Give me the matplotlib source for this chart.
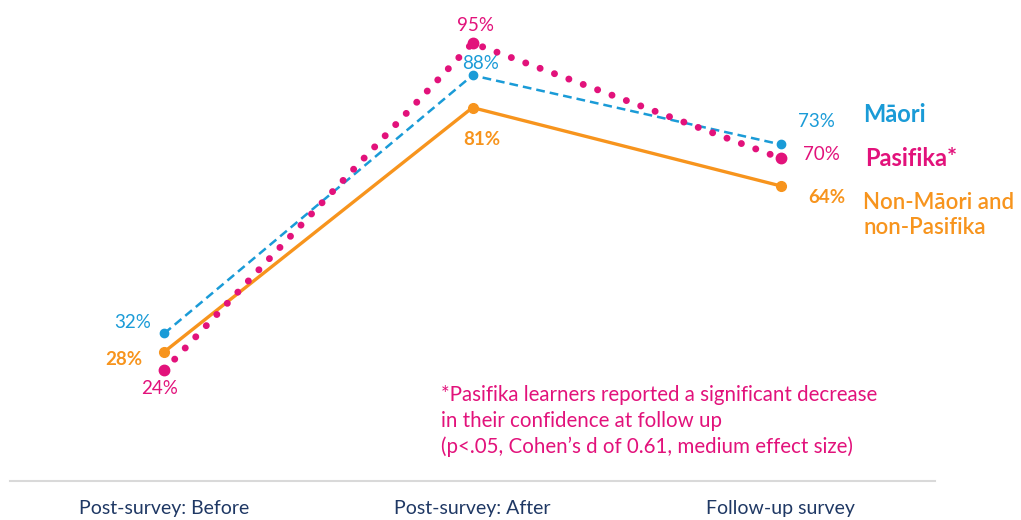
import matplotlib
matplotlib.use('Agg')
import matplotlib.pyplot as plt

plt.rcParams['font.family'] = ['Lato', 'DejaVu Sans']

stages = ['Post-survey: Before', 'Post-survey: After', 'Follow-up survey']
maori = [32, 88, 73]
pasifika = [24, 95, 70]
other = [28, 81, 64]

blue = '#1a9bd7'
pink = '#e2127b'
orange = '#f7941d'
navy = '#1f3864'

fig = plt.figure(figsize=(10.21, 5.2), dpi=100)
ax = fig.add_axes([10 / 1021, 39 / 520, 925 / 1021, 461 / 520])
x = list(range(len(stages)))

ax.plot(x, other, color=orange, lw=2.4, marker='o', ms=7, zorder=2)
ax.plot(x, maori, color=blue, lw=1.8, ls=(0, (3.5, 2)), marker='o', ms=6, zorder=3)
ax.plot(x, pasifika, color=pink, lw=5, ls=(0, (0.01, 2.2)), dash_capstyle='round',
        marker='o', ms=7.5, zorder=4)

ax.set_xlim(-0.5, 2.5)
ax.set_ylim(0, 100)
ax.set_xticks(x)
ax.set_xticklabels(stages, color=navy, fontsize=14)
ax.tick_params(axis='x', length=0, pad=14)
ax.set_yticks([])
for s in ['top', 'left', 'right']:
    ax.spines[s].set_visible(False)
ax.spines['bottom'].set_color('#d9d9d9')
ax.spines['bottom'].set_linewidth(1.5)

# data labels: offsets in pixels
m_off = [(-32, 11), (8, 12), (36, 23)]
p_off = [(-5, -18), (3, 18), (41, 4)]
o_off = [(-40, -8), (9, -32), (46, -12)]
for vals, offs, col, wt in [(maori, m_off, blue, 'normal'),
                            (pasifika, p_off, pink, 'normal'),
                            (other, o_off, orange, 'bold')]:
    for i, v in enumerate(vals):
        ax.annotate('%d%%' % v, (i, v), xytext=offs[i], textcoords='offset pixels',
                    ha='center', va='center', color=col, fontsize=13.5, fontweight=wt)

# series names at right
fig.text(863 / 1021, 1 - 115 / 520, 'Māori', color=blue, fontsize=17, fontweight='bold',
         ha='left', va='center')
fig.text(865 / 1021, 1 - 158 / 520, 'Pasifika*', color=pink, fontsize=17, fontweight='bold',
         ha='left', va='center')
fig.text(863 / 1021, 1 - 215 / 520, 'Non-Māori and\nnon-Pasifika', color=orange, fontsize=16,
         fontweight='semibold', ha='left', va='center', linespacing=1.25)

fig.text(441 / 1021, 1 - 385 / 520,
         '*Pasifika learners reported a significant decrease\n'
         'in their confidence at follow up\n'
         '(p<.05, Cohen’s d of 0.61, medium effect size)',
         color=pink, fontsize=14.8, ha='left', va='top', linespacing=1.35)

fig.savefig('out.png', dpi=100)
